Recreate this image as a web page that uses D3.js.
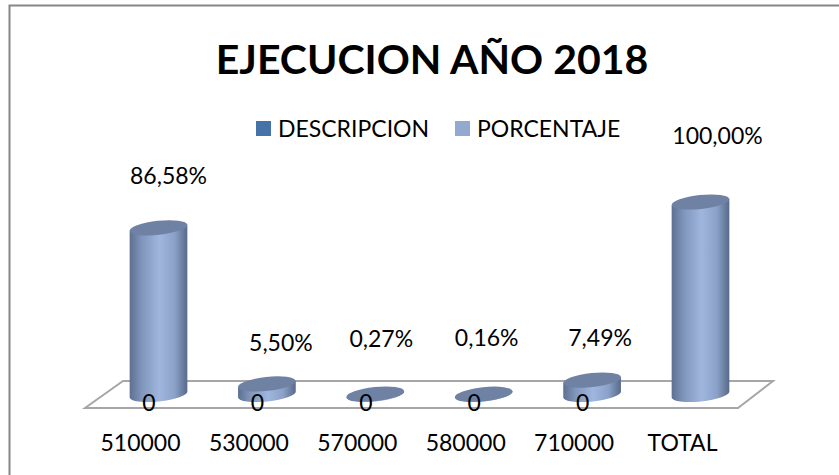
<!DOCTYPE html>
<html lang="es">
<head>
<meta charset="UTF-8">
<title>Ejecucion 2018</title>
<script src="https://d3js.org/d3.v7.min.js"></script>
<style>
  html, body { margin: 0; padding: 0; background: #fff; }
  svg { display: block; }
  text { font-family: Lato, "Open Sans", sans-serif; fill: #000; }
</style>
</head>
<body>
<script>
const categories = ['510000', '530000', '570000', '580000', '710000', 'TOTAL'];
const porcentaje = [86.58, 5.50, 0.27, 0.16, 7.49, 100];
const descripcion = [0, 0, 0, 0, 0, null];
const seriesNames = ['DESCRIPCION', 'PORCENTAJE'];
const seriesColors = ['#4572a7', '#93a9cf'];

// hand placed label offsets, the original chart has them moved around
const labelNudge = [[10, -50], [14, -39], [6, -53], [3, -54], [8, -40], [17, -64]];

const width = 839, height = 475;
const rx = 29, ry = 7, tilt = -6;

const svg = d3.select('body').append('svg')
    .attr('width', width)
    .attr('height', height);

const x = d3.scalePoint()
    .domain(categories)
    .range([158.5, 700.5]);

const y = d3.scaleLinear()
    .domain([0, 100])
    .range([394.5, 202]);

// same categories, shifted to the front edge of the floor
const xFront = x.copy().range([140, 682]);

const defs = svg.append('defs');
const grad = defs.append('linearGradient')
    .attr('id', 'cyl')
    .attr('x1', 0).attr('x2', 1).attr('y1', 0).attr('y2', 0);
grad.append('stop').attr('offset', '0%').attr('stop-color', '#5d7092');
grad.append('stop').attr('offset', '22%').attr('stop-color', '#8197bd');
grad.append('stop').attr('offset', '52%').attr('stop-color', '#9fb6de');
grad.append('stop').attr('offset', '78%').attr('stop-color', '#8ba1c8');
grad.append('stop').attr('offset', '100%').attr('stop-color', '#586a8a');

// frame, only top and left show in the crop
svg.append('path')
    .attr('d', `M9.5,${height} V5.5 H${width}`)
    .attr('fill', 'none')
    .attr('stroke', '#868686')
    .attr('stroke-width', 2);

svg.append('text')
    .attr('x', 432)
    .attr('y', 74)
    .attr('text-anchor', 'middle')
    .attr('font-size', 41)
    .attr('font-weight', 700)
    .text('EJECUCION AÑO 2018');

// legend
const legendX = d3.scaleOrdinal().domain(seriesNames).range([256, 455]);
const legend = svg.append('g').selectAll('g')
    .data(seriesNames)
    .join('g')
    .attr('transform', d => `translate(${legendX(d)},121)`);
legend.append('rect')
    .attr('width', 15)
    .attr('height', 15)
    .attr('fill', (d, i) => seriesColors[i]);
legend.append('text')
    .attr('x', 22)
    .attr('y', 16)
    .attr('font-size', 23)
    .text(d => d);

// floor
svg.append('path')
    .attr('d', 'M85,408 L123,381 H773 L738,408 Z')
    .attr('fill', 'none')
    .attr('stroke', '#a6a6a6')
    .attr('stroke-width', 2);

const rad = tilt * Math.PI / 180;
const dx = rx * Math.cos(rad), dy = rx * Math.sin(rad);

const bars = svg.append('g').selectAll('g')
    .data(categories)
    .join('g');

bars.append('path')
    .attr('fill', 'url(#cyl)')
    .attr('d', (d, i) => {
      const cx = x(d), y0 = y(0), y1 = y(porcentaje[i]);
      return `M${cx - dx},${y1 - dy} L${cx - dx},${y0 - dy}` +
        ` A${rx},${ry} ${tilt} 0 0 ${cx + dx},${y0 + dy}` +
        ` L${cx + dx},${y1 + dy} Z`;
    });

bars.append('ellipse')
    .attr('rx', rx)
    .attr('ry', ry)
    .attr('fill', '#6f82a4')
    .attr('transform', (d, i) => `translate(${x(d)},${y(porcentaje[i])}) rotate(${tilt})`);

// percentage labels
svg.append('g').selectAll('text')
    .data(categories)
    .join('text')
    .attr('text-anchor', 'middle')
    .attr('font-size', 23)
    .attr('dominant-baseline', 'middle')
    .attr('x', (d, i) => x(d) + labelNudge[i][0])
    .attr('y', (d, i) => y(porcentaje[i]) + labelNudge[i][1])
    .text((d, i) => d3.format('.2f')(porcentaje[i]).replace('.', ',') + '%');

// the empty DESCRIPCION series only leaves its zeros
svg.append('g').selectAll('text')
    .data(categories.filter((d, i) => descripcion[i] !== null))
    .join('text')
    .attr('text-anchor', 'middle')
    .attr('font-size', 23)
    .attr('dominant-baseline', 'middle')
    .attr('x', d => x(d) - 9.5)
    .attr('y', (d, i) => y(descripcion[i]) + 10.5)
    .text((d, i) => descripcion[i]);

const axis = svg.append('g')
    .attr('transform', 'translate(0,435)')
    .call(d3.axisBottom(xFront).tickSize(0).tickPadding(0));
axis.select('.domain').remove();
axis.attr('font-family', null).attr('font-size', null);
axis.selectAll('text')
    .attr('font-size', 23);
</script>
</body>
</html>
